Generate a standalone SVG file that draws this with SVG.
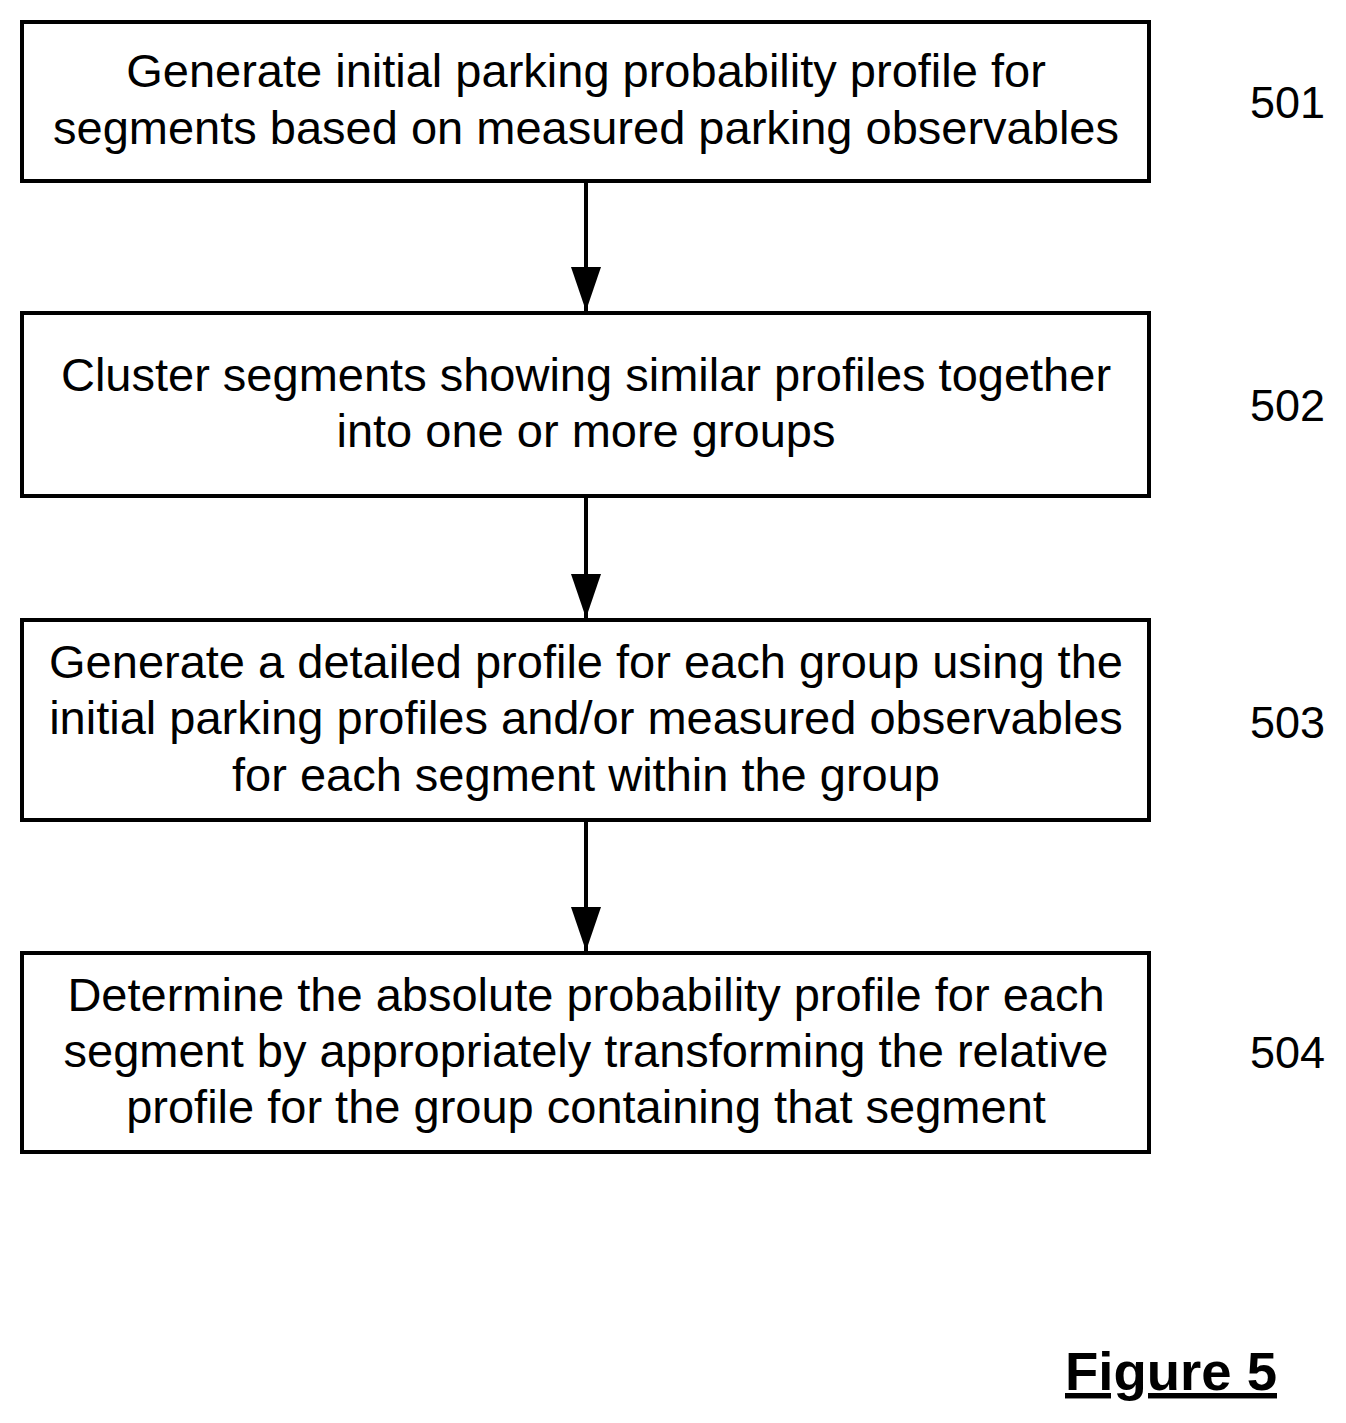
<svg xmlns="http://www.w3.org/2000/svg" width="1346" height="1423" viewBox="0 0 1346 1423">
<style>
.b{fill:#fff;stroke:#000;stroke-width:4}
.t{font-family:"Liberation Sans",Arial,sans-serif;font-size:47px;text-anchor:middle}
.n{font-family:"Liberation Sans",Arial,sans-serif;font-size:45px}
.c{stroke:#000;stroke-width:4;fill:none}
</style>
<defs>
<marker id="h" viewBox="0 0 44 30" refX="44" refY="15" markerWidth="44" markerHeight="30" markerUnits="userSpaceOnUse" orient="auto"><path d="M0,0L44,15L0,30Z" fill="#000"/></marker></defs>
<rect width="1346" height="1423" fill="#fff"/>
<g id="n501"><rect class="b" x="22" y="22" width="1127" height="159"/>
<text class="t" x="586" y="87">Generate initial parking probability profile for</text>
<text class="t" x="586" y="144">segments based on measured parking observables</text>
<text class="n" x="1250" y="118">501</text></g>
<g id="n502"><rect class="b" x="22" y="313" width="1127" height="183"/>
<text class="t" x="586" y="391">Cluster segments showing similar profiles together</text>
<text class="t" x="586" y="447">into one or more groups</text>
<text class="n" x="1250" y="421">502</text></g>
<g id="n503"><rect class="b" x="22" y="620" width="1127" height="200"/>
<text class="t" x="586" y="678">Generate a detailed profile for each group using the</text>
<text class="t" x="586" y="734">initial parking profiles and/or measured observables</text>
<text class="t" x="586" y="791">for each segment within the group</text>
<text class="n" x="1250" y="738">503</text></g>
<g id="n504"><rect class="b" x="22" y="953" width="1127" height="199"/>
<text class="t" x="586" y="1011">Determine the absolute probability profile for each</text>
<text class="t" x="586" y="1067">segment by appropriately transforming the relative</text>
<text class="t" x="586" y="1123">profile for the group containing that segment</text>
<text class="n" x="1250" y="1068">504</text></g>
<g id="connectors">
<line class="c" x1="586" y1="181" x2="586" y2="311" marker-end="url(#h)"/>
<line class="c" x1="586" y1="496" x2="586" y2="618" marker-end="url(#h)"/>
<line class="c" x1="586" y1="820" x2="586" y2="951" marker-end="url(#h)"/>
</g>
<text x="1065" y="1390" font-family="Liberation Sans,Arial,sans-serif" font-size="54.5" font-weight="bold" text-decoration="underline">Figure 5</text>
</svg>
